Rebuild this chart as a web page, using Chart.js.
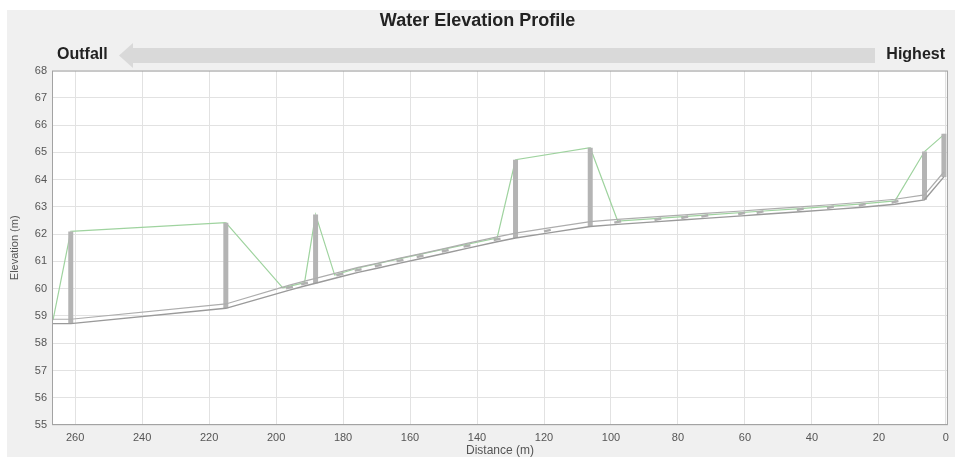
<!DOCTYPE html>
<html>
<head>
<meta charset="utf-8">
<script src="https://cdn.jsdelivr.net/npm/chart.js@4.4.1/dist/chart.umd.min.js"></script>
<style>
  html, body { margin: 0; padding: 0; background: #fff; }
</style>
</head>
<body>
<canvas id="grafico" width="955" height="457"></canvas>
<script>
// axis ticks
const xTicks = [260, 240, 220, 200, 180, 160, 140, 120, 100, 80, 60, 40, 20, 0];
const yTicks = [55, 56, 57, 58, 59, 60, 61, 62, 63, 64, 65, 66, 67, 68];

// conduit profile (distance from highest node, m)
const pipeDist = [266.6, 261.3, 215.0, 196.0, 191.5, 188.2, 181.0, 175.5, 169.5, 163.0, 157.0, 149.5, 143.0, 134.0, 128.5, 119.0, 106.2, 98.0, 86.0, 78.0, 72.0, 61.0, 55.5, 43.5, 34.5, 25.0, 15.2, 6.4, 0.6];
const pipeInvert = [58.72, 58.72, 59.28, 59.95, 60.10, 60.20, 60.43, 60.60, 60.76, 60.94, 61.10, 61.30, 61.48, 61.72, 61.86, 62.04, 62.28, 62.36, 62.46, 62.53, 62.58, 62.67, 62.72, 62.82, 62.90, 62.99, 63.10, 63.26, 64.10];
const pipeCrown = [58.88, 58.88, 59.44, 60.13, 60.28, 60.38, 60.61, 60.78, 60.94, 61.12, 61.28, 61.48, 61.66, 61.90, 62.04, 62.22, 62.46, 62.54, 62.64, 62.71, 62.76, 62.85, 62.90, 63.00, 63.08, 63.17, 63.28, 63.44, 64.28];

// manholes (invert to rim)
const mhDist = [261.3, 215.0, 188.2, 128.5, 106.2, 6.4, 0.6];
const mhInvert = [58.72, 59.28, 60.20, 61.86, 62.28, 63.26, 64.10];
const mhRim = [62.10, 62.42, 62.72, 64.73, 65.17, 65.03, 65.68];

// small junctions along the conduit
const jnDist = [196.0, 191.5, 181.0, 175.5, 169.5, 163.0, 157.0, 149.5, 143.0, 134.0, 119.0, 98.0, 86.0, 78.0, 72.0, 61.0, 55.5, 43.5, 34.5, 25.0, 15.2];
const jnElev = [60.04, 60.19, 60.52, 60.69, 60.85, 61.03, 61.19, 61.39, 61.57, 61.81, 62.13, 62.45, 62.55, 62.62, 62.67, 62.76, 62.81, 62.91, 62.99, 63.08, 63.19];

// water surface
const waterDist = [266.6, 261.3, 215.0, 198.0, 191.5, 188.2, 182.5, 175.5, 163.0, 149.5, 134.0, 128.5, 106.2, 98.0, 86.0, 72.0, 55.5, 43.5, 25.0, 15.2, 6.4, 0.6];
const waterElev = [58.85, 62.10, 62.42, 60.03, 60.22, 62.72, 60.50, 60.76, 61.10, 61.46, 61.86, 64.73, 65.17, 62.48, 62.58, 62.70, 62.84, 62.94, 63.11, 63.22, 65.03, 65.65];

const pts = (xs, ys) => xs.map((x, i) => ({ x: x, y: ys[i] }));

let barras = [];
mhDist.forEach((d, i) => {
  barras.push({ x: d, y: mhInvert[i] });
  barras.push({ x: d, y: mhRim[i] });
  barras.push({ x: d, y: null });
});

const fuente = "'Liberation Sans', Arial, sans-serif";

const fondo = {
  id: "fondo",
  beforeDraw(chart) {
    const { ctx, chartArea: a } = chart;
    ctx.save();
    ctx.fillStyle = "#ffffff";
    ctx.fillRect(0, 0, chart.width, chart.height);
    ctx.fillStyle = "#f0f0f0";
    ctx.fillRect(7, 10, chart.width - 7, chart.height - 10);
    ctx.fillStyle = "#ffffff";
    ctx.fillRect(a.left, a.top, a.right - a.left, a.bottom - a.top);
    ctx.restore();
  },
  afterDraw(chart) {
    const { ctx, chartArea: a } = chart;
    ctx.save();
    ctx.strokeStyle = "#a3a3a3";
    ctx.lineWidth = 1;
    ctx.strokeRect(a.left + 0.5, a.top + 0.5, a.right - a.left - 1, a.bottom - a.top - 1);

    // direction arrow
    ctx.fillStyle = "#d9d9d9";
    ctx.fillRect(132, 48, 743, 15);
    ctx.beginPath();
    ctx.moveTo(119, 55.5);
    ctx.lineTo(133, 43);
    ctx.lineTo(133, 68);
    ctx.closePath();
    ctx.fill();

    ctx.fillStyle = "#222";
    ctx.font = "bold 16px " + fuente;
    ctx.textBaseline = "middle";
    ctx.textAlign = "left";
    ctx.fillText("Outfall", 57, 55);
    ctx.textAlign = "right";
    ctx.fillText("Highest", 945, 55);
    ctx.restore();
  },
};

new Chart(document.getElementById("grafico"), {
  type: "scatter",
  data: {
    datasets: [
      {
        label: "Invert",
        data: pts(pipeDist, pipeInvert),
        showLine: true,
        borderColor: "#9a9a9a",
        borderWidth: 1.4,
        pointRadius: 0,
      },
      {
        label: "Crown",
        data: pts(pipeDist, pipeCrown),
        showLine: true,
        borderColor: "#adadad",
        borderWidth: 1.2,
        pointRadius: 0,
      },
      {
        label: "Junctions",
        data: pts(jnDist, jnElev),
        showLine: false,
        pointStyle: "line",
        pointRadius: 3.5,
        rotation: -12,
        borderColor: "#b0b0b0",
        borderWidth: 2.5,
      },
      {
        label: "Manholes",
        data: barras,
        showLine: true,
        spanGaps: false,
        borderColor: "#b4b4b4",
        borderWidth: 5,
        pointRadius: 0,
      },
      {
        label: "Manholes fill",
        data: barras,
        showLine: true,
        spanGaps: false,
        borderColor: "#e6e6e6",
        borderWidth: 2,
        pointRadius: 0,
      },
      {
        label: "Water",
        data: pts(waterDist, waterElev),
        showLine: true,
        borderColor: "#9fd39f",
        borderWidth: 1.2,
        pointRadius: 0,
      },
    ],
  },
  options: {
    responsive: false,
    devicePixelRatio: 1,
    animation: false,
    layout: { padding: { left: 7, right: 7, top: 10, bottom: 0 } },
    plugins: {
      legend: { display: false },
      tooltip: { enabled: false },
      title: {
        display: true,
        text: "Water Elevation Profile",
        color: "#222",
        font: { family: fuente, size: 18, weight: "bold" },
        padding: { top: 0, bottom: 39 },
      },
    },
    scales: {
      x: {
        type: "linear",
        reverse: true,
        min: -0.6,
        max: 266.9,
        afterBuildTicks: (s) => { s.ticks = xTicks.map((v) => ({ value: v })); },
        afterFit: (s) => { s.height = 32; },
        grid: { color: "#e2e2e2", drawTicks: false },
        border: { display: false },
        ticks: {
          autoSkip: false,
          maxRotation: 0,
          padding: 6,
          color: "#555",
          font: { family: fuente, size: 11 },
        },
        title: {
          display: true,
          text: "Distance (m)",
          color: "#555",
          padding: 0,
          font: { family: fuente, size: 12, lineHeight: 1 },
        },
      },
      y: {
        min: 55,
        max: 68,
        afterBuildTicks: (s) => { s.ticks = yTicks.map((v) => ({ value: v })); },
        afterFit: (s) => { s.width = 45; },
        grid: { color: "#e2e2e2", drawTicks: false },
        border: { display: false },
        ticks: {
          autoSkip: false,
          padding: 5,
          color: "#555",
          font: { family: fuente, size: 11 },
        },
        title: {
          display: true,
          text: "Elevation (m)",
          color: "#555",
          padding: { top: 1, bottom: 0 },
          font: { family: fuente, size: 11 },
        },
      },
    },
  },
  plugins: [fondo],
});
</script>
</body>
</html>
